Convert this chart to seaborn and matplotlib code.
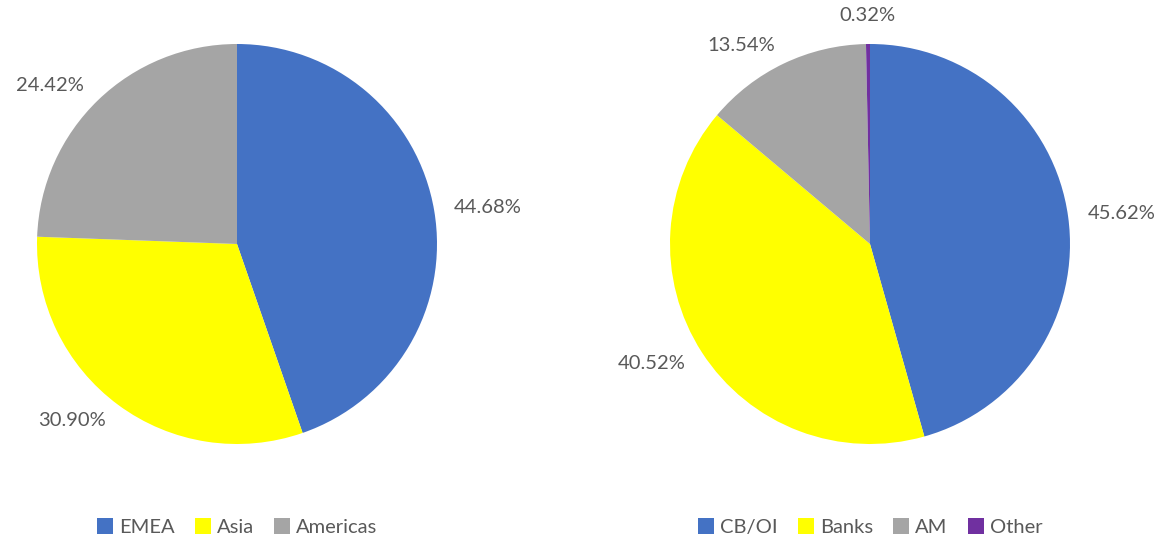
import matplotlib
matplotlib.use("Agg")
import matplotlib.pyplot as plt
import seaborn as sns
from matplotlib.patches import Patch

sns.set_theme(style="white")
plt.rcParams['font.family'] = ['Lato', 'DejaVu Sans']

region_labels = ["EMEA", "Asia", "Americas"]
region_values = [44.68, 30.90, 24.42]
region_colors = ["#4472C4", "#FFFF00", "#A5A5A5"]

type_labels = ["CB/OI", "Banks", "AM", "Other"]
type_values = [45.62, 40.52, 13.54, 0.32]
type_colors = ["#4472C4", "#FFFF00", "#A5A5A5", "#7030A0"]

TEXT = "#595959"
W, H = 1163, 540
fig = plt.figure(figsize=(W / 100, H / 100), dpi=100)
fig.patch.set_facecolor("white")


def draw(cx, cy, r, values, labels, colors, legend_y):
    ax = fig.add_axes([(cx - r) / W, (H - cy - r) / H, 2 * r / W, 2 * r / H])
    wedges, texts = ax.pie(values, colors=colors, startangle=90, counterclock=False,
                           labels=[f"{v:.2f}%" for v in values], labeldistance=1.1,
                           radius=1, wedgeprops=dict(linewidth=0),
                           textprops=dict(color=TEXT, fontsize=14.5))
    for t in texts:
        x, y = t.get_position()
        if abs(x) < 0.15:
            t.set_ha("center")
            t.set_va("bottom")
    ax.set_xlim(-1, 1)
    ax.set_ylim(-1, 1)
    ax.set_aspect("equal")
    ax.axis("off")
    handles = [Patch(facecolor=c, edgecolor="none") for c in colors]
    fig.legend(handles, labels, loc="center", bbox_to_anchor=(cx / W, 1 - legend_y / H),
               ncol=len(labels), frameon=False, handlelength=0.8, handleheight=0.8,
               handletextpad=0.3, columnspacing=1.0, labelcolor=TEXT, fontsize=14.5)


draw(237, 244, 200, region_values, region_labels, region_colors, 527)
draw(870, 244, 200, type_values, type_labels, type_colors, 527)

fig.savefig("out.png", dpi=100, facecolor="white")
